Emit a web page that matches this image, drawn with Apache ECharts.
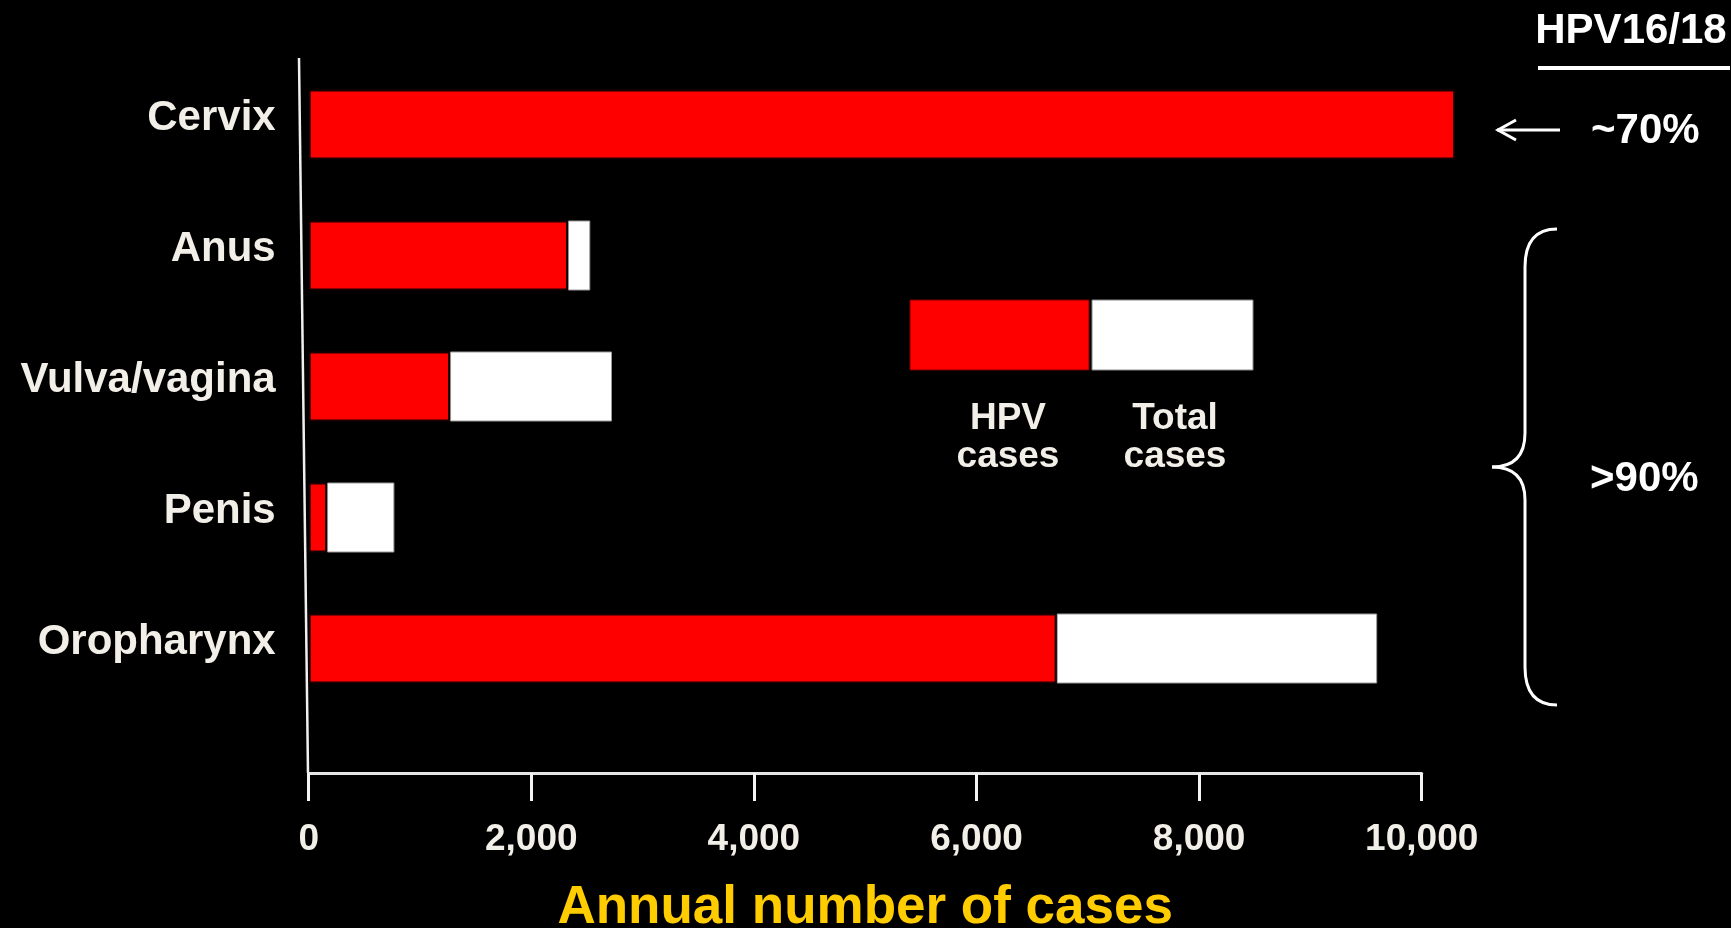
<!DOCTYPE html>
<html>
<head>
<meta charset="utf-8">
<title>Annual number of HPV-associated cancer cases</title>
<script src="https://cdn.jsdelivr.net/npm/echarts@6/dist/echarts.min.js"></script>
<style>
  html, body { margin: 0; padding: 0; background: #000; }
  #chart { width: 1731px; height: 928px; }
</style>
</head>
<body>
<div id="chart"></div>
<script>
// Cancer sites, top to bottom
const categories = ['Cervix', 'Anus', 'Vulva/vagina', 'Penis', 'Oropharynx'];
// Annual cases attributable to HPV
const hpvCases = [10300, 2330, 1270, 165, 6720];
// Annual total cases at each site
const totalCases = [10300, 2530, 2725, 770, 9600];
// X axis ticks
const xTicks = [0, 2000, 4000, 6000, 8000, 10000];

// Portion of total cases not attributed to HPV (stacked after the red part);
// sites with no such portion get no white segment
const otherCases = totalCases.map((t, i) => (t - hpvCases[i]) || '-');

const FONT = '"Liberation Sans", Arial, Helvetica, sans-serif';
const TEXT = '#f2eee8';
const WHITE_LINE = { stroke: '#ffffff', lineWidth: 3, fill: null };

const chart = echarts.init(document.getElementById('chart'), null, { renderer: 'canvas' });

chart.setOption({
  backgroundColor: '#000',
  animation: false,
  grid: {
    left: 308.7, right: 309.3, top: 59, bottom: 214,
    containLabel: false,
    outerBoundsMode: 'none'
  },
  xAxis: {
    type: 'value',
    min: xTicks[0],
    max: xTicks[xTicks.length - 1],
    interval: xTicks[1] - xTicks[0],
    offset: 59,
    splitLine: { show: false },
    axisLine: { show: true, lineStyle: { color: '#e6e6e6', width: 3 } },
    axisTick: { show: true, length: 28, lineStyle: { color: '#f4f4f4', width: 3 } },
    axisLabel: {
      margin: 48,
      color: TEXT,
      fontFamily: FONT,
      fontWeight: 'bold',
      fontSize: 37,
      formatter: v => v.toLocaleString('en-US')
    },
    name: 'Annual number of cases',
    nameLocation: 'middle',
    nameGap: 109,
    nameTextStyle: { color: '#ffcc00', fontFamily: FONT, fontWeight: 'bold', fontSize: 53 }
  },
  yAxis: {
    type: 'category',
    data: categories,
    inverse: true,
    axisLine: { show: false },
    axisTick: { show: false },
    axisLabel: {
      margin: 33,
      color: TEXT,
      fontFamily: FONT,
      fontWeight: 'bold',
      fontSize: 42,
      // sit the labels slightly above the bar centres
      verticalAlign: 'bottom',
      lineHeight: 12
    }
  },
  series: [
    {
      name: 'HPV cases',
      type: 'bar',
      stack: 'cases',
      clip: false,
      z: 3,
      barWidth: 70,
      data: hpvCases,
      itemStyle: { color: '#ff0000', borderColor: '#1a0000', borderWidth: 2 }
    },
    {
      name: 'Total cases',
      type: 'bar',
      stack: 'cases',
      clip: false,
      z: 2,
      barWidth: 70,
      data: otherCases,
      itemStyle: { color: '#ffffff', borderColor: '#9a9a9a', borderWidth: 1 }
    }
  ],
  graphic: [
    // vertical category axis line
    { type: 'line', shape: { x1: 299, y1: 58, x2: 308, y2: 773 },
      style: { stroke: '#f0f0f0', lineWidth: 2.5 } },
    // key swatches
    { type: 'rect', shape: { x: 910, y: 300, width: 179, height: 70 },
      style: { fill: '#ff0000', stroke: '#7a0000', lineWidth: 1 } },
    { type: 'rect', shape: { x: 1092, y: 300, width: 161, height: 70 },
      style: { fill: '#ffffff', stroke: '#8a8a8a', lineWidth: 1 } },
    { type: 'text', x: 1008, y: 438,
      style: { text: 'HPV\ncases', fill: TEXT, font: 'bold 37px ' + FONT,
               textAlign: 'center', textVerticalAlign: 'middle', lineHeight: 38 } },
    { type: 'text', x: 1175, y: 438,
      style: { text: 'Total\ncases', fill: TEXT, font: 'bold 37px ' + FONT,
               textAlign: 'center', textVerticalAlign: 'middle', lineHeight: 38 } },
    // HPV16/18 heading with underline
    { type: 'text', x: 1631, y: 31,
      style: { text: 'HPV16/18', fill: '#ffffff', font: 'bold 42px ' + FONT,
               textAlign: 'center', textVerticalAlign: 'middle' } },
    { type: 'rect', shape: { x: 1538, y: 66, width: 192, height: 4 },
      style: { fill: '#ffffff' } },
    // arrow pointing to the cervix bar
    { type: 'line', shape: { x1: 1560, y1: 130, x2: 1497, y2: 130 }, style: WHITE_LINE },
    { type: 'polyline', shape: { points: [[1516, 120], [1498, 130], [1516, 140]] }, style: WHITE_LINE },
    { type: 'text', x: 1591, y: 131,
      style: { text: '~70%', fill: '#ffffff', font: 'bold 42px ' + FONT,
               textAlign: 'left', textVerticalAlign: 'middle' } },
    // brace grouping the non-cervical sites
    { type: 'bezierCurve', shape: { x1: 1557, y1: 229, cpx1: 1525, cpy1: 229, x2: 1525, y2: 267 }, style: WHITE_LINE },
    { type: 'line', shape: { x1: 1525, y1: 267, x2: 1525, y2: 433 }, style: WHITE_LINE },
    { type: 'bezierCurve', shape: { x1: 1525, y1: 433, cpx1: 1525, cpy1: 467, x2: 1492, y2: 467 }, style: WHITE_LINE },
    { type: 'bezierCurve', shape: { x1: 1492, y1: 467, cpx1: 1525, cpy1: 467, x2: 1525, y2: 500 }, style: WHITE_LINE },
    { type: 'line', shape: { x1: 1525, y1: 500, x2: 1525, y2: 667 }, style: WHITE_LINE },
    { type: 'bezierCurve', shape: { x1: 1525, y1: 667, cpx1: 1525, cpy1: 705, x2: 1557, y2: 705 }, style: WHITE_LINE },
    { type: 'text', x: 1590, y: 479,
      style: { text: '>90%', fill: '#ffffff', font: 'bold 42px ' + FONT,
               textAlign: 'left', textVerticalAlign: 'middle' } }
  ]
});
</script>
</body>
</html>
